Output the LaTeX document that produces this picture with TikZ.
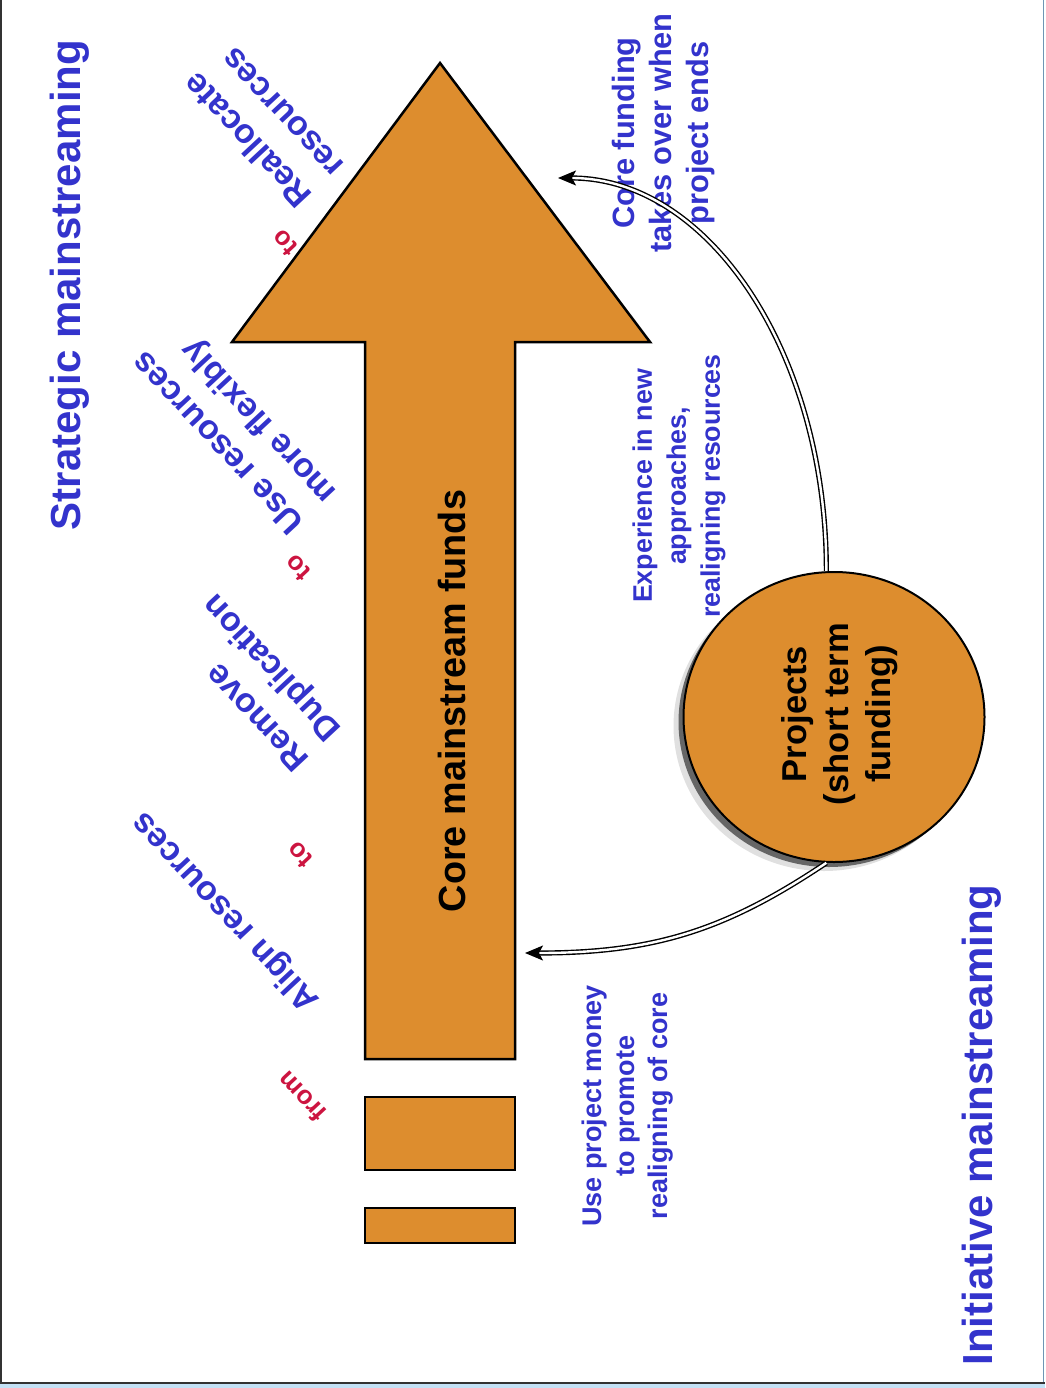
\documentclass[tikz,border=0pt]{standalone}
\usepackage{fontspec}
\setmainfont{Liberation Sans}
\usepackage{tikz}
\usetikzlibrary{arrows.meta,shapes.geometric,shadows}

\definecolor{coreorange}{RGB}{221,141,46}
\definecolor{textblue}{RGB}{51,51,204}
\definecolor{linkred}{RGB}{204,20,64}
\definecolor{stripblue}{RGB}{196,226,246}
\definecolor{edgeblue}{RGB}{110,150,180}

\tikzset{
  corebar/.style={draw, line width=2.5pt, fill=coreorange},
  maintitle/.style={rotate=90, anchor=base, text=textblue, font=\fontsize{42}{50}\selectfont\bfseries},
  slanttext/.style={rotate=133, align=left, text=textblue, font=\fontsize{34}{44}\selectfont\bfseries},
  linkword/.style={rotate=133, text=linkred, font=\fontsize{26}{30}\selectfont\bfseries},
  sidenote/.style={rotate=90, align=center, text=textblue},
  projcircle/.style={ellipse, draw, line width=2pt, fill=coreorange, inner sep=0pt,
    minimum width=301pt, minimum height=290pt,
    general shadow={shadow xshift=-10pt, shadow yshift=-9pt, fill=black!12},
    general shadow={shadow xshift=-5pt, shadow yshift=-5pt, fill=black!60}},
  link/.style={draw, line width=1.4pt, double=white, double distance=2.4pt,
    -{Stealth[length=18pt,width=15pt,inset=4pt]}}
}

\begin{document}
\begin{tikzpicture}[x=1pt,y=-1pt]
%%Frame
\useasboundingbox (0,0) rectangle (1045,1388);
\fill[stripblue] (0,1384) rectangle (1045,1388);
\draw[line width=1pt, edgeblue] (1043,0) -- (1043,1383);
\draw[line width=2.5pt, black!80] (1,0) -- (1,1383) -- (1045,1383);

%%Core arrow
\draw[line width=2.5pt, fill=coreorange, line join=miter]
  (440,63) -- (650,342) -- (515,342) -- (515,1059) -- (365,1059)
  -- (365,342) -- (232,342) -- cycle;
\draw[corebar] (365,1097) rectangle (515,1170);
\draw[corebar] (365,1208) rectangle (515,1243);
\node[rotate=90, anchor=base, font=\fontsize{37.8}{45}\selectfont\bfseries]
  (corefunds) at (465,701) {Core mainstream funds};

%%Titles
\node[maintitle] (strategic) at (80,285) {Strategic mainstreaming};
\node[maintitle] (initiative) at (992,1125) {Initiative mainstreaming};

%%Steps
\node[slanttext] (reallocate) at (263,126) {Reallocate\\resources};
\node[slanttext] (flexibly) at (236,426) {Use resources\\more flexibly};
\node[slanttext] (duplication) at (257,681) {Remove\\Duplication};
\node[slanttext] (align) at (226,911) {Align resources};
\node[linkword] (to1) at (285,243) {to};
\node[linkword] (to2) at (298,568) {to};
\node[linkword] (to3) at (300,855) {to};
\node[linkword] (from) at (302,1097) {from};

%%Projects
\node[projcircle] (proj) at (834,717) {};
\node[rotate=90, align=center, font=\fontsize{34.5}{42}\selectfont\bfseries]
  (projtext) at (840,714) {Projects\\(short term\\funding)};

%%Notes
\node[sidenote, font=\fontsize{30.8}{37}\selectfont\bfseries]
  (takesover) at (664,133) {Core funding\\takes over when\\project ends};
\node[sidenote, font=\fontsize{26.8}{34}\selectfont\bfseries]
  (experience) at (679,486) {Experience in new\\approaches,\\realigning resources};
\node[sidenote, font=\fontsize{27}{33}\selectfont\bfseries]
  (useproject) at (628,1106) {Use project money\\to promote\\realigning of core};

%%Links
\coordinate (coretip) at (558,178);
\coordinate (shafttip) at (525,953);
\draw[link] (proj.93) .. controls +(0,-220) and +(150,0) .. (coretip);
\draw[link] (proj.267) .. controls +(-100,67) and +(130,0) .. (shafttip);
\end{tikzpicture}
\end{document}
